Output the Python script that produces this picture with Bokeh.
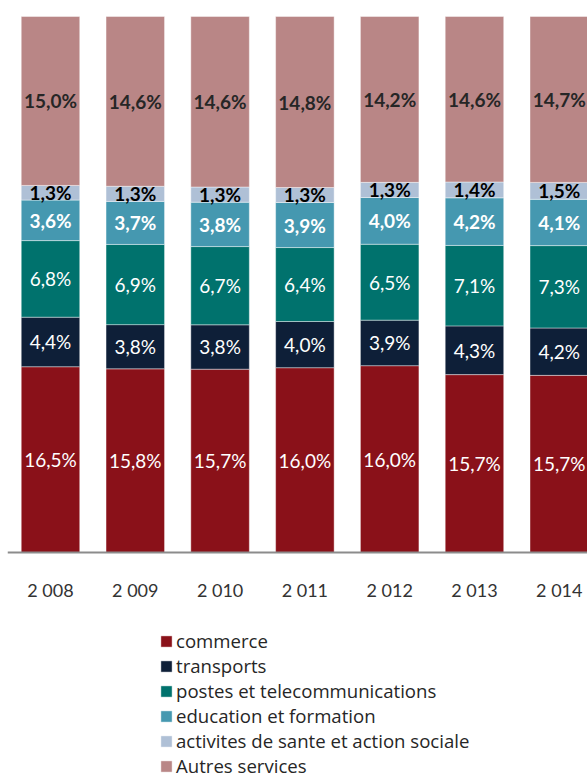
import numpy as np
from bokeh.plotting import figure
from bokeh.models import ColumnDataSource, Range1d, FixedTicker, Legend, LegendItem
from bokeh.core.properties import value
from bokeh.embed import file_html
from bokeh.resources import INLINE

years = ["2 008", "2 009", "2 010", "2 011", "2 012", "2 013", "2 014"]
series = ["commerce", "transports", "postes et telecommunications",
          "education et formation", "activites de sante et action sociale",
          "Autres services"]
commerce = [16.5, 15.8, 15.7, 16.0, 16.0, 15.7, 15.7]
transports = [4.4, 3.8, 3.8, 4.0, 3.9, 4.3, 4.2]
postes = [6.8, 6.9, 6.7, 6.4, 6.5, 7.1, 7.3]
education = [3.6, 3.7, 3.8, 3.9, 4.0, 4.2, 4.1]
sante = [1.3, 1.3, 1.3, 1.3, 1.3, 1.4, 1.5]
autres = [15.0, 14.6, 14.6, 14.8, 14.2, 14.6, 14.7]

colors = ["#8A1119", "#0E1F38", "#00726D", "#4598B0", "#AFC0D6", "#B98686"]
label_colors = ["white", "white", "white", "white", "black", "#262626"]
label_styles = ["normal", "normal", "normal", "bold", "bold", "bold"]

values = [commerce, transports, postes, education, sante, autres]
arr = np.array(values, dtype=float)
totals = arr.sum(axis=0)
shares = arr / totals
tops = np.cumsum(shares, axis=0)
mids = tops - shares / 2

xs = list(range(len(years)))
keys = [f"s{i}" for i in range(len(series))]
data = {"x": xs}
for k, row in zip(keys, shares):
    data[k] = list(row)
source = ColumnDataSource(data)

p = figure(width=587, height=778, output_backend="svg", toolbar_location=None,
           x_range=Range1d(-0.507, 6.333), y_range=Range1d(-0.4216, 1.0299),
           min_border_left=7, min_border_right=0, min_border_top=0,
           min_border_bottom=0)
p.outline_line_color = None
p.xgrid.visible = False
p.ygrid.visible = False
p.yaxis.visible = False
p.background_fill_color = "white"

renderers = p.vbar_stack(keys, x="x", width=0.69, source=source, color=colors,
                         line_color="white", line_width=0.6, line_alpha=0.7)

for i in range(len(series)):
    lab_src = ColumnDataSource(dict(
        x=xs, y=list(mids[i]),
        t=[f"{v:.1f}".replace(".", ",") + "%" for v in values[i]]))
    p.text(x="x", y="y", text="t", source=lab_src, text_align="center",
           text_baseline="middle", text_font=value("Lato"),
           text_font_size="19px", text_color=label_colors[i],
           text_font_style=label_styles[i])

ax = p.xaxis[0]
ax.fixed_location = 0
ax.ticker = FixedTicker(ticks=xs)
ax.major_label_overrides = {i: y for i, y in enumerate(years)}
ax.axis_line_color = "#8C8C8C"
ax.axis_line_width = 2
ax.major_tick_line_color = None
ax.minor_tick_line_color = None
ax.major_tick_out = 0
ax.major_tick_in = 0
ax.major_label_standoff = 26
ax.major_label_text_font = "Lato"
ax.major_label_text_font_size = "18px"
ax.major_label_text_color = "#333333"

legend = Legend(items=[LegendItem(label=s, renderers=[r]) for s, r in zip(series, renderers)],
                location=(152, 0), orientation="vertical",
                glyph_width=14, glyph_height=14, label_standoff=3,
                label_height=20, spacing=0, padding=0, margin=0,
                border_line_color=None, background_fill_alpha=0,
                label_text_font="Open Sans", label_text_font_size="18.6px",
                label_text_color="#262626")
p.add_layout(legend, "center")

open("out.html", "w").write(file_html(p, INLINE))
